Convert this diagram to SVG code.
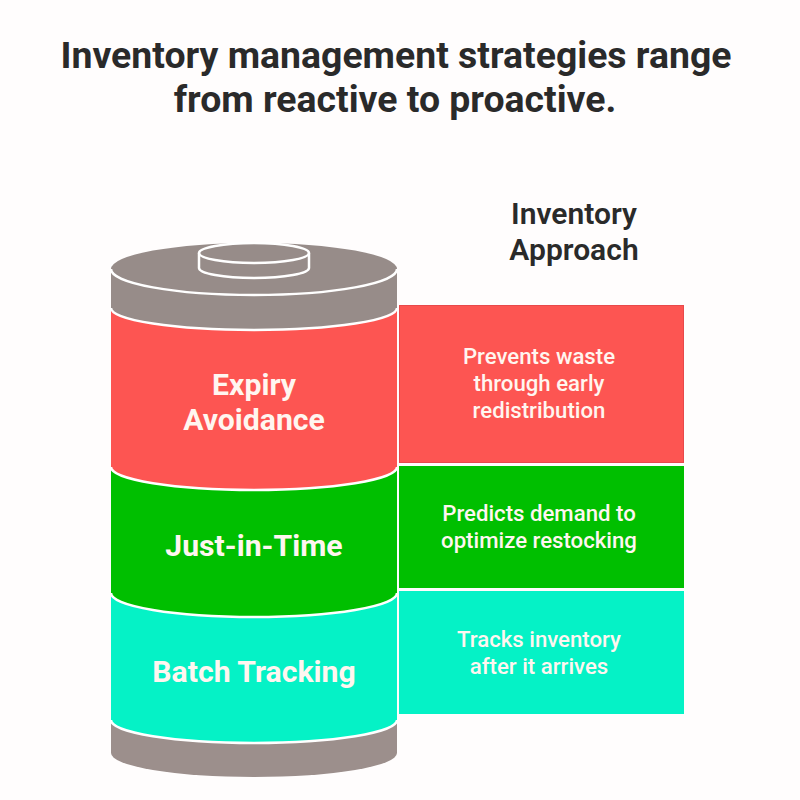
<svg xmlns="http://www.w3.org/2000/svg" width="800" height="800" viewBox="0 0 800 800">
<style>
.t{font-family:Roboto,"Liberation Sans",sans-serif;text-anchor:middle}
.h{font-size:37.4px;font-weight:700;fill:#2a2a2a}
.s{font-size:30px;font-weight:600;fill:#2a2a2a}
.n{font-size:30.2px;font-weight:700;fill:#fff6f0}
.d{font-size:22.2px;font-weight:500;fill:#fff6f0}
.l{stroke:#fff;stroke-width:2.5;fill:none}
.g{fill:#978c89}
</style>
<rect width="800" height="800" fill="#fffdfd"/>
<g id="title">
<text class="t h" x="396" y="68">Inventory management strategies range</text>
<text class="t h" x="395" y="112">from reactive to proactive.</text>
</g>
<g id="heading">
<text class="t s" x="574" y="224">Inventory</text>
<text class="t s" x="574" y="260">Approach</text>
</g>
<g id="cylinder-base">
<path fill="#9c8f8c" d="M111 720V753A143 24 0 0 0 397 753V720Z"/>
</g>
<g id="cylinder-top">
<path class="g" d="M111 269V308A143 23 0 0 0 397 308V269A143 26 0 0 0 111 269Z"/>
<path class="l" d="M111 269A143 26 0 0 0 397 269"/>
<path class="g" d="M199 253V268A55 10 0 0 0 309 268V253Z"/>
<path class="l" d="M199 253V268A55 10 0 0 0 309 268V253"/>
<ellipse class="l" cx="254" cy="253" rx="55" ry="10"/>
</g>
<g id="band-expiry">
<path fill="#fd5552" d="M111 308A143 22 0 0 0 397 308V467A143 23 0 0 1 111 467Z"/>
<text class="t n" x="254" y="395">Expiry</text>
<text class="t n" x="254" y="430">Avoidance</text>
</g>
<g id="band-jit">
<path fill="#00bf00" d="M111 467A143 23 0 0 0 397 467V593A143 24 0 0 1 111 593Z"/>
<text class="t n" x="254" y="556">Just-in-Time</text>
</g>
<g id="band-batch">
<path fill="#05f2c6" d="M111 593A143 24 0 0 0 397 593V720A143 23 0 0 1 111 720Z"/>
<text class="t n" x="254" y="682">Batch Tracking</text>
</g>
<g id="separators">
<path class="l" d="M111 308A143 22 0 0 0 397 308"/>
<path class="l" d="M111 467A143 23 0 0 0 397 467"/>
<path class="l" d="M111 593A143 24 0 0 0 397 593"/>
<path class="l" d="M111 720A143 23 0 0 0 397 720"/>
</g>
<g id="desc-expiry">
<rect x="399.5" y="305.5" width="284" height="157" fill="#fd5552" stroke="#e8494b"/>
<text class="t d" x="539" y="364">Prevents waste</text>
<text class="t d" x="539" y="391">through early</text>
<text class="t d" x="539" y="418">redistribution</text>
</g>
<g id="desc-jit">
<rect x="399" y="466" width="285" height="122" fill="#00bf00"/>
<text class="t d" x="539" y="521">Predicts demand to</text>
<text class="t d" x="539" y="548">optimize restocking</text>
</g>
<g id="desc-batch">
<rect x="399" y="591" width="285" height="123" fill="#05f2c6"/>
<text class="t d" x="539" y="647">Tracks inventory</text>
<text class="t d" x="539" y="674">after it arrives</text>
</g>
</svg>
